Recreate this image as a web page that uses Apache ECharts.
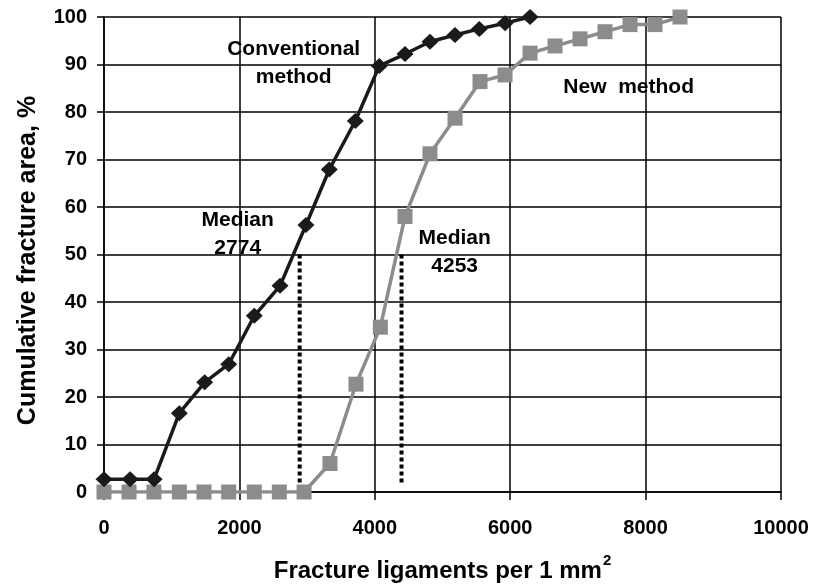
<!DOCTYPE html>
<html>
<head>
<meta charset="utf-8">
<script src="https://cdn.jsdelivr.net/npm/echarts@6/dist/echarts.min.js"></script>
<style>
html,body{margin:0;padding:0;background:#fff;}
#chart{width:814px;height:586px;}
</style>
</head>
<body>
<div id="chart"></div>
<script>
// Conventional method (black diamonds)
const convX = [0, 385, 740, 1113, 1487, 1842, 2220, 2600, 2983, 3328, 3712, 4067, 4446, 4815, 5185, 5544, 5924, 6293];
const convY = [2.7, 2.7, 2.7, 16.6, 23.1, 26.9, 37.1, 43.4, 56.2, 67.9, 78.1, 89.7, 92.2, 94.8, 96.2, 97.5, 98.7, 100];
// New method (gray squares)
const newX = [0, 370, 738, 1113, 1477, 1842, 2220, 2590, 2955, 3338, 3722, 4082, 4446, 4815, 5185, 5554, 5924, 6293, 6662, 7031, 7400, 7770, 8139, 8508];
const newY = [0, 0, 0, 0, 0, 0, 0, 0, 0, 6.0, 22.7, 34.7, 58.0, 71.2, 78.7, 86.4, 87.8, 92.4, 93.9, 95.4, 96.9, 98.4, 98.4, 100];
// Median dotted lines
const medianX = [2890, 4395];
const medianYRange = [2, 50];
// Annotations
const annoText = ['Conventional\nmethod', 'Median\n2774', 'Median\n4253', 'New  method'];
const annoX = [2802, 1975, 5180, 7750];
const annoY = [90.2, 54.3, 50.4, 85.3];
// Axis ticks
const xTicks = [0, 2000, 4000, 6000, 8000, 10000];
const yTicks = [0, 10, 20, 30, 40, 50, 60, 70, 80, 90, 100];

const FONT = '"Liberation Sans", Arial, sans-serif';
const chart = echarts.init(document.getElementById('chart'));

const medianSeries = medianX.map(x => ({
  type: 'line',
  data: [[x, medianYRange[0]], [x, medianYRange[1]]],
  symbol: 'none',
  lineStyle: { color: '#000', width: 4, type: [4, 3] },
  z: 3,
  silent: true
}));

chart.setOption({
  animation: false,
  backgroundColor: '#fff',
  grid: { left: 104, right: 33, top: 17, bottom: 94, containLabel: false, outerBoundsMode: 'none' },
  xAxis: {
    type: 'value',
    min: xTicks[0], max: xTicks[xTicks.length - 1], interval: 2000,
    name: '{b|Fracture ligaments per 1 mm}{s|2}',
    nameLocation: 'middle',
    nameGap: 61,
    nameTextStyle: {
      rich: {
        b: { fontFamily: FONT, fontWeight: 'bold', fontSize: 24, color: '#000', lineHeight: 30, verticalAlign: 'bottom' },
        s: { fontFamily: FONT, fontWeight: 'bold', fontSize: 15, color: '#000', lineHeight: 30, verticalAlign: 'top', padding: [0, 0, 6, 1] }
      }
    },
    axisLine: { show: true, onZero: false, lineStyle: { color: '#000', width: 1.5 } },
    axisTick: { show: true, inside: false, length: 8, lineStyle: { color: '#000', width: 1.5 } },
    axisLabel: {
      margin: 26, fontFamily: FONT, fontWeight: 'bold', fontSize: 20, color: '#000',
      formatter: v => String(v)
    },
    splitLine: { show: true, lineStyle: { color: '#000', width: 1.5 } }
  },
  yAxis: {
    type: 'value',
    min: yTicks[0], max: yTicks[yTicks.length - 1], interval: 10,
    name: 'Cumulative fracture area, %',
    nameLocation: 'middle',
    nameRotate: 90,
    nameGap: 63,
    nameTextStyle: { fontFamily: FONT, fontWeight: 'bold', fontSize: 25, color: '#000', padding: [0, 12, 0, 0] },
    axisLine: { show: true, lineStyle: { color: '#000', width: 1.5 } },
    axisTick: { show: true, length: 7, lineStyle: { color: '#000', width: 1.5 } },
    axisLabel: { margin: 17, fontFamily: FONT, fontWeight: 'bold', fontSize: 20, color: '#000' },
    splitLine: { show: true, lineStyle: { color: '#000', width: 1.5 } }
  },
  series: [
    ...medianSeries,
    {
      name: 'New method',
      type: 'line',
      data: newX.map((x, i) => [x, newY[i]]),
      symbol: 'rect',
      symbolSize: 15,
      itemStyle: { color: '#8c8c8c' },
      lineStyle: { color: '#8c8c8c', width: 3.5 },
      z: 4
    },
    {
      name: 'Conventional method',
      type: 'line',
      data: convX.map((x, i) => [x, convY[i]]),
      symbol: 'diamond',
      symbolSize: [17, 16],
      itemStyle: { color: '#1a1a1a' },
      lineStyle: { color: '#1a1a1a', width: 3.5 },
      z: 5
    },
    {
      type: 'scatter',
      data: annoX.map((x, i) => ({ value: [x, annoY[i]], label: { formatter: annoText[i] } })),
      symbolSize: 0,
      silent: true,
      z: 6,
      itemStyle: { opacity: 1 },
      label: {
        show: true,
        position: 'inside',
        fontFamily: FONT, fontWeight: 'bold', fontSize: 21, color: '#000', opacity: 1,
        lineHeight: 28, align: 'center', verticalAlign: 'middle'
      }
    }
  ]
});
</script>
</body>
</html>
